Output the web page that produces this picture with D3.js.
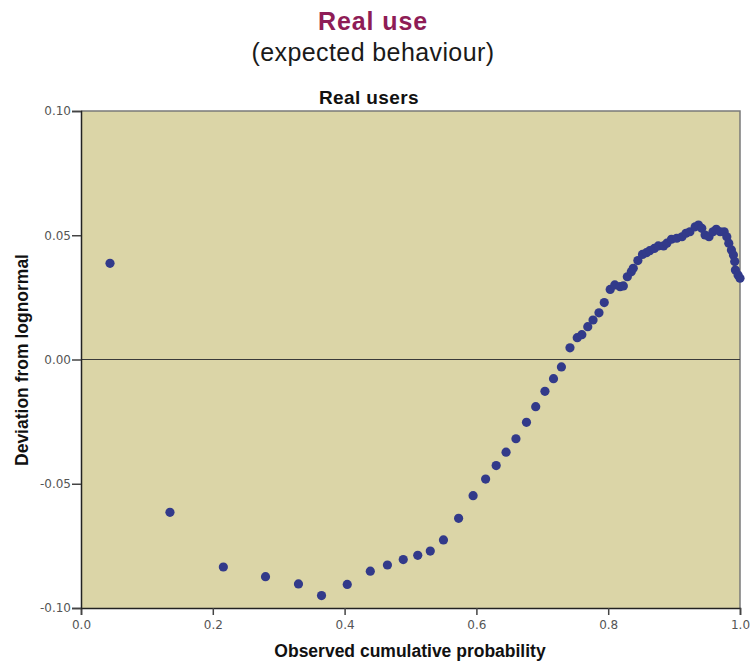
<!DOCTYPE html>
<html>
<head>
<meta charset="utf-8">
<script src="https://cdn.jsdelivr.net/npm/d3@7"></script>
<style>
  html, body { margin: 0; padding: 0; background: #ffffff; }
  svg { display: block; }
</style>
</head>
<body>
<svg id="chart" width="751" height="661"></svg>
<script>
// ---- Data ----
const titleText = "Real use";
const subtitleText = "(expected behaviour)";
const chartTitle = "Real users";
const xLabel = "Observed cumulative probability";
const yLabel = "Deviation from lognormal";

const xTicks = [0.0, 0.2, 0.4, 0.6, 0.8, 1.0];
const yTicks = [-0.10, -0.05, 0.00, 0.05, 0.10];

const observedProb = [
  0.044, 0.135, 0.216, 0.280, 0.330, 0.365, 0.404, 0.439, 0.465, 0.489,
  0.511, 0.530, 0.550, 0.573, 0.595, 0.614, 0.630, 0.645, 0.660, 0.676,
  0.690, 0.704, 0.717, 0.729, 0.742, 0.753, 0.760, 0.769, 0.777, 0.786,
  0.794, 0.803, 0.810, 0.818, 0.823, 0.829, 0.835, 0.838, 0.845, 0.852,
  0.858, 0.863, 0.870, 0.876, 0.884, 0.889, 0.896, 0.904, 0.912, 0.918,
  0.924, 0.932, 0.937, 0.942, 0.947, 0.953, 0.959, 0.964, 0.970, 0.976,
  0.980, 0.983, 0.987, 0.990, 0.992, 0.993, 0.997, 1.000
];
const deviation = [
  0.0387, -0.0615, -0.0835, -0.0874, -0.0903, -0.0950, -0.0905, -0.0852, -0.0827, -0.0805,
  -0.0788, -0.0771, -0.0726, -0.0639, -0.0548, -0.0481, -0.0427, -0.0373, -0.0319, -0.0253,
  -0.0190, -0.0128, -0.0077, -0.0030, 0.0047, 0.0088, 0.0100, 0.0132, 0.0159, 0.0188,
  0.0229, 0.0282, 0.0300, 0.0293, 0.0296, 0.0333, 0.0353, 0.0367, 0.0398, 0.0423,
  0.0430, 0.0438, 0.0447, 0.0457, 0.0457, 0.0468, 0.0484, 0.0488, 0.0494, 0.0508,
  0.0514, 0.0534, 0.0541, 0.0528, 0.0501, 0.0494, 0.0514, 0.0524, 0.0514, 0.0514,
  0.0494, 0.0468, 0.0441, 0.0421, 0.0394, 0.0360, 0.0340, 0.0327
];

// ---- Layout ----
const svg = d3.select("#chart");
const plot = { left: 81, right: 740, top: 111, bottom: 608 };

const x = d3.scaleLinear().domain([0, 1]).range([plot.left, plot.right]);
const y = d3.scaleLinear().domain([-0.1, 0.1]).range([plot.bottom, plot.top]);

const font = "'Liberation Sans', Arial, Helvetica, sans-serif";
const tickFont = "'DejaVu Sans', Verdana, sans-serif";

// Titles
svg.append("text")
  .attr("x", 373).attr("y", 30)
  .attr("text-anchor", "middle")
  .attr("font-family", font).attr("font-weight", "bold")
  .attr("font-size", 25).attr("letter-spacing", 0.9).attr("fill", "#8e1c56")
  .text(titleText);

svg.append("text")
  .attr("x", 373).attr("y", 61)
  .attr("text-anchor", "middle")
  .attr("font-family", font)
  .attr("font-size", 25).attr("letter-spacing", 0.4).attr("fill", "#1a1a1a")
  .text(subtitleText);

svg.append("text")
  .attr("x", 369).attr("y", 104)
  .attr("text-anchor", "middle")
  .attr("font-family", font).attr("font-weight", "bold")
  .attr("font-size", 19).attr("letter-spacing", 0.4).attr("fill", "#111")
  .text(chartTitle);

// Plot background
svg.append("rect")
  .attr("x", plot.left).attr("y", plot.top)
  .attr("width", plot.right - plot.left).attr("height", plot.bottom - plot.top)
  .attr("fill", "#dbd5a7");

// Top and right frame
svg.append("path")
  .attr("d", `M${plot.left},${plot.top}H${plot.right}V${plot.bottom}`)
  .attr("fill", "none").attr("stroke", "#7a7a7a").attr("stroke-width", 1.5);

// Zero reference line
svg.append("line")
  .attr("x1", plot.left).attr("x2", plot.right)
  .attr("y1", y(0)).attr("y2", y(0))
  .attr("stroke", "#3a3a3a").attr("stroke-width", 1.2);

// Points
svg.append("g").selectAll("circle")
  .data(observedProb.map((p, i) => [p, deviation[i]]))
  .join("circle")
  .attr("cx", d => x(d[0]))
  .attr("cy", d => y(d[1]))
  .attr("r", 4.6)
  .attr("fill", "#323a8a");

// Axes
const xAxis = d3.axisBottom(x).tickValues(xTicks).tickFormat(d => d.toFixed(1)).tickSizeOuter(0).tickSize(7).tickPadding(5);
const yAxis = d3.axisLeft(y).tickValues(yTicks).tickFormat(d => d.toFixed(2)).tickSizeOuter(0).tickSize(9).tickPadding(1);

const gx = svg.append("g").attr("transform", `translate(0,${plot.bottom})`).call(xAxis);
const gy = svg.append("g").attr("transform", `translate(${plot.left},0)`).call(yAxis);

[gx, gy].forEach(g => {
  g.select(".domain").attr("stroke", "#222").attr("stroke-width", 1.5);
  g.selectAll(".tick line").attr("stroke", "#444").attr("stroke-width", 1.5);
  g.selectAll(".tick text")
    .attr("font-family", tickFont).attr("font-size", 12).attr("fill", "#555");
});

// Axis labels
svg.append("text")
  .attr("x", 410).attr("y", 657)
  .attr("text-anchor", "middle")
  .attr("font-family", font).attr("font-weight", "bold")
  .attr("font-size", 17.5).attr("fill", "#111")
  .text(xLabel);

svg.append("text")
  .attr("transform", `translate(28,360) rotate(-90)`)
  .attr("text-anchor", "middle")
  .attr("font-family", font).attr("font-weight", "bold")
  .attr("font-size", 17.5).attr("fill", "#111")
  .text(yLabel);
</script>
</body>
</html>
